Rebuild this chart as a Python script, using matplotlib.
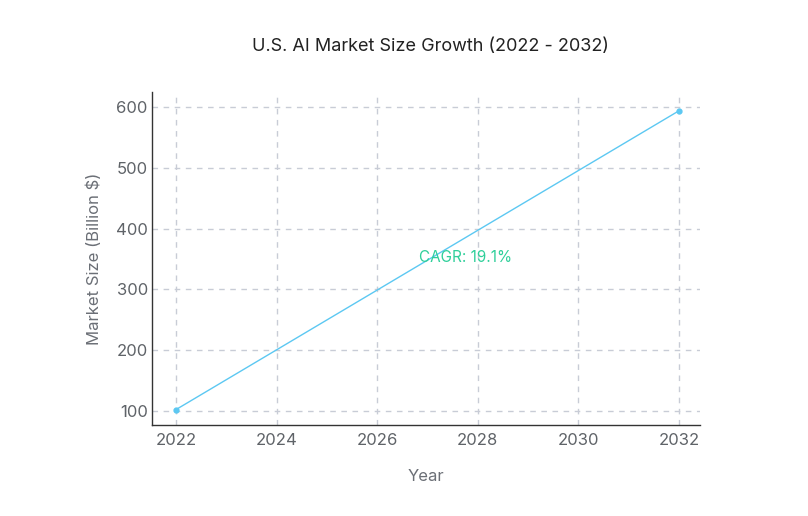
import matplotlib
matplotlib.use("Agg")
import matplotlib.pyplot as plt

years = [2022, 2032]
market_size = [102.5, 594]
xticks = [2022, 2024, 2026, 2028, 2030, 2032]
yticks = [100, 200, 300, 400, 500, 600]
cagr_label = "CAGR: 19.1%"

plt.rcParams['font.family'] = ['Inter', 'DejaVu Sans']

fig = plt.figure(figsize=(8.08, 5.16), dpi=100)
ax = fig.add_axes([152/808, 1-425/516, (700-152)/808, (425-92)/516])

ax.plot(years, market_size, color='#5cc8f2', lw=1, marker='o', ms=3.5, zorder=3)
ax.text(2027.75, 353, cagr_label, color='#2fcf9a', fontsize=11, ha='center', va='center')

ax.set_xlim(2021.52, 2032.42)
ax.set_ylim(77, 625)
ax.set_xticks(xticks)
ax.set_yticks(yticks)
ax.grid(True, linestyle=(0, (4, 4)), color='#c8ccd6', lw=1)
for s in ['top', 'right']:
    ax.spines[s].set_visible(False)
for s in ['left', 'bottom']:
    ax.spines[s].set_color('#333333')
    ax.spines[s].set_linewidth(1)
ax.tick_params(length=0, labelsize=12, colors='#5f6368')
ax.tick_params(axis='x', pad=6)
ax.tick_params(axis='y', pad=3)
ax.set_xlabel('Year', fontsize=12, color='#6b6f76', labelpad=15)
ax.set_ylabel('Market Size (Billion $)', fontsize=12, color='#6b6f76', labelpad=10)
fig.text(430/808, 1-47/516, 'U.S. AI Market Size Growth (2022 - 2032)', fontsize=13, ha='center', va='center', color='#222222')

fig.savefig('out.png', dpi=100)
